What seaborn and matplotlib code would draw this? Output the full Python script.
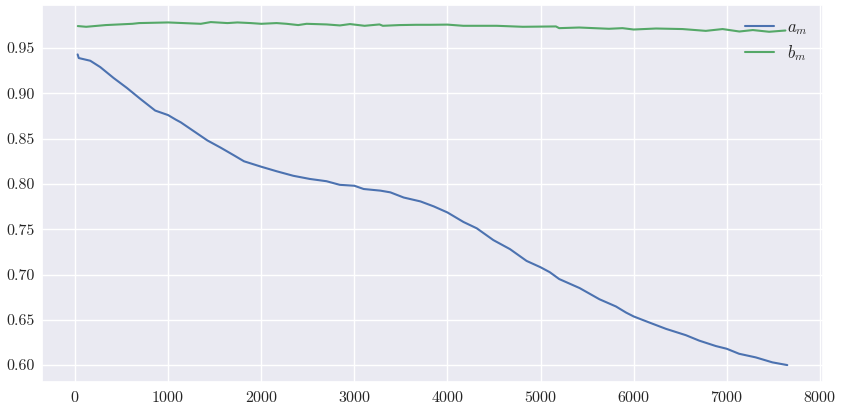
import numpy as np
import pandas as pd
import seaborn as sns
import matplotlib.pyplot as plt

# values
a_steps = [28, 40, 164, 271, 414, 557, 700, 861, 1000, 1082, 1136, 1279, 1422,
           1565, 1708, 1815, 2000, 2165, 2344, 2522, 2701, 2844, 3000, 3100,
           3280, 3387, 3530, 3710, 3853, 4000, 4172, 4315, 4493, 4672, 4850,
           5000, 5100, 5200, 5420, 5632, 5810, 5918, 6000, 6168, 6347, 6561,
           6704, 6883, 7000, 7132, 7311, 7490, 7650]
a_m = [0.943, 0.939, 0.936, 0.929, 0.917, 0.906, 0.894, 0.881, 0.876, 0.871,
       0.868, 0.858, 0.848, 0.840, 0.8315, 0.825, 0.819, 0.814, 0.809, 0.8055,
       0.803, 0.799, 0.798, 0.7944, 0.7926, 0.7907, 0.785, 0.7807, 0.7752,
       0.7685, 0.758, 0.751, 0.738, 0.728, 0.715, 0.708, 0.7025, 0.695, 0.685,
       0.6727, 0.6647, 0.658, 0.6537, 0.647, 0.640, 0.633, 0.627, 0.621, 0.618,
       0.6125, 0.6085, 0.603, 0.600]

b_steps = [30, 120, 330, 616, 688, 1000, 1351, 1458, 1637, 1744, 1887, 2000,
           2165, 2272, 2397, 2487, 2702, 2845, 2953, 3110, 3270, 3306, 3485,
           3663, 3815, 4000, 4170, 4530, 4810, 5165, 5200, 5415, 5735, 5880,
           6000, 6240, 6525, 6775, 6955, 7135, 7280, 7455, 7630]
b_m = [0.9743, 0.9735, 0.9754, 0.9768, 0.9776, 0.9783, 0.9768, 0.9787, 0.9776,
       0.9783, 0.9776, 0.9768, 0.9776, 0.9768, 0.9754, 0.9768, 0.9761, 0.975,
       0.9765, 0.9746, 0.9761, 0.9746, 0.9754, 0.9757, 0.9757, 0.9759, 0.9746,
       0.9746, 0.9735, 0.9739, 0.972, 0.9727, 0.9713, 0.972, 0.9705, 0.9716,
       0.971, 0.969, 0.971, 0.9683, 0.9699, 0.968, 0.9694]


def main():
    sns.set_theme(style="darkgrid", palette=["#4C72B0", "#55A868"])
    plt.rcParams["font.family"] = ["cmr10", "DejaVu Serif"]
    plt.rcParams["mathtext.fontset"] = "cm"
    plt.rcParams["axes.formatter.use_mathtext"] = True

    fig, ax = plt.subplots(figsize=(8.43, 4.11), dpi=100)
    fig.subplots_adjust(left=0.05, right=0.976, bottom=0.07, top=0.988)

    sns.lineplot(x=a_steps, y=a_m, ax=ax, label=r"$a_m$", linewidth=1.5)
    sns.lineplot(x=b_steps, y=b_m, ax=ax, label=r"$b_m$", linewidth=1.5)

    ax.set_xticks(np.arange(0, 8001, 1000))
    ax.set_yticks(np.arange(0.60, 0.951, 0.05))
    ax.set_yticklabels([f"{v:.2f}" for v in np.arange(0.60, 0.951, 0.05)])
    ax.tick_params(axis="both", length=0, labelsize=11.5, pad=5.5)
    ax.legend(loc="upper right", frameon=False, fontsize=12,
              handlelength=1.7, labelspacing=0.35, borderaxespad=0.5)

    fig.savefig("out.png")


if __name__ == "__main__":
    main()
